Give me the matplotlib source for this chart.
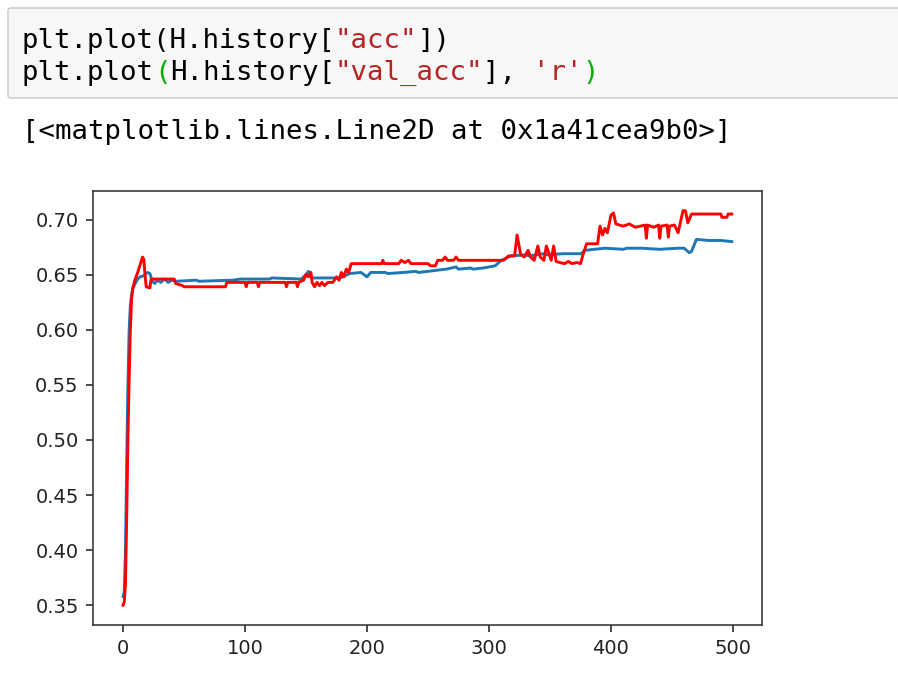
import matplotlib
matplotlib.use("Agg")
import matplotlib.pyplot as plt
from matplotlib.patches import FancyBboxPatch

# acc (blue): epoch -> value
acc_epoch = [0, 1, 2, 3, 4, 5, 6, 7, 8, 10, 12, 14, 17, 20, 22, 24, 26, 28, 31, 34,
             37, 40, 44, 60, 62, 90, 96, 120, 122, 146, 149, 152, 155, 178, 182, 186,
             195, 200, 203, 215, 217, 230, 240, 242, 250, 257, 265, 273, 275, 285, 287,
             295, 300, 305, 310, 318, 330, 333, 345, 348, 360, 376, 378, 395, 410, 413,
             425, 440, 455, 460, 464, 466, 470, 480, 490, 499]
acc_value = [0.358, 0.362, 0.400, 0.480, 0.550, 0.600, 0.622, 0.632, 0.637, 0.642,
             0.646, 0.648, 0.649, 0.652, 0.651, 0.644, 0.642, 0.645, 0.643, 0.646,
             0.643, 0.645, 0.644, 0.645, 0.644, 0.645, 0.646, 0.646, 0.647, 0.646,
             0.649, 0.653, 0.647, 0.647, 0.649, 0.651, 0.652, 0.648, 0.652, 0.652,
             0.651, 0.652, 0.653, 0.652, 0.653, 0.654, 0.655, 0.657, 0.655, 0.656,
             0.655, 0.656, 0.657, 0.658, 0.663, 0.667, 0.668, 0.667, 0.669, 0.668,
             0.669, 0.669, 0.672, 0.674, 0.673, 0.674, 0.674, 0.673, 0.674, 0.674,
             0.670, 0.671, 0.682, 0.681, 0.681, 0.680]

# val_acc (red)
val_epoch = [0, 1, 2, 3, 4, 5, 6, 7, 8, 10, 12, 14, 16, 17, 18, 19, 22, 23, 42, 43,
             49, 50, 84, 85, 100, 101, 102, 110, 111, 112, 133, 134, 135, 142, 143,
             144, 148, 150, 152, 154, 155, 157, 159, 161, 163, 165, 168, 172, 175,
             177, 179, 181, 183, 185, 187, 212, 213, 214, 226, 228, 231, 234, 236,
             250, 252, 256, 258, 262, 264, 266, 271, 273, 275, 312, 316, 321, 323,
             326, 329, 332, 334, 337, 340, 342, 345, 347, 349, 351, 353, 355, 358,
             362, 365, 368, 372, 375, 377, 380, 389, 391, 393, 395, 397, 400, 402,
             404, 410, 415, 420, 428, 429, 430, 435, 439, 440, 441, 446, 447, 448,
             452, 455, 459, 461, 463, 466, 490, 491, 495, 496, 499]
val_value = [0.350, 0.353, 0.370, 0.430, 0.500, 0.555, 0.600, 0.628, 0.638, 0.646,
             0.652, 0.659, 0.666, 0.664, 0.650, 0.639, 0.638, 0.646, 0.646, 0.642,
             0.640, 0.639, 0.639, 0.643, 0.643, 0.639, 0.643, 0.643, 0.639, 0.643,
             0.643, 0.639, 0.643, 0.643, 0.639, 0.643, 0.645, 0.650, 0.648, 0.652,
             0.643, 0.639, 0.643, 0.640, 0.643, 0.640, 0.643, 0.643, 0.648, 0.645,
             0.652, 0.648, 0.655, 0.652, 0.660, 0.660, 0.663, 0.660, 0.660, 0.663,
             0.661, 0.663, 0.660, 0.660, 0.658, 0.658, 0.663, 0.663, 0.666, 0.663,
             0.663, 0.666, 0.663, 0.663, 0.667, 0.667, 0.686, 0.668, 0.666, 0.672,
             0.666, 0.663, 0.676, 0.666, 0.663, 0.676, 0.670, 0.663, 0.676, 0.662,
             0.661, 0.660, 0.662, 0.660, 0.661, 0.660, 0.668, 0.678, 0.678, 0.694,
             0.686, 0.692, 0.688, 0.704, 0.706, 0.696, 0.694, 0.696, 0.693, 0.695,
             0.683, 0.695, 0.693, 0.695, 0.683, 0.694, 0.695, 0.684, 0.694, 0.695,
             0.688, 0.708, 0.708, 0.697, 0.705, 0.705, 0.702, 0.702, 0.705, 0.705]

STR_RED = "#ba2121"
BRACKET_GREEN = "#00b000"
code_lines = [
    [("plt.plot(H.history[", "black"), ('"acc"', STR_RED), ("])", "black")],
    [("plt.plot", "black"), ("(", BRACKET_GREEN), ("H.history[", "black"),
     ('"val_acc"', STR_RED), ("], ", "black"), ("'r'", STR_RED), (")", BRACKET_GREEN)],
]
output_text = "[<matplotlib.lines.Line2D at 0x1a41cea9b0>]"

W, H = 898, 696
fig = plt.figure(figsize=(W / 100, H / 100), dpi=100)

# code cell box
fig.patches.append(FancyBboxPatch((8 / W, 1 - 98 / H), 1.0, 90 / H,
                                  boxstyle="round,pad=0,rounding_size=0.004",
                                  transform=fig.transFigure, facecolor="#f7f7f7",
                                  edgecolor="#cfcfcf", linewidth=1.2))

FS = 19.7
char_px = 0.602 * FS * 100 / 72
x0 = 22
baselines = [48, 80]
for line, base in zip(code_lines, baselines):
    n = 0
    for seg, col in line:
        fig.text((x0 + n * char_px) / W, 1 - base / H, seg, color=col,
                 family="DejaVu Sans Mono", fontsize=FS, va="baseline")
        n += len(seg)
fig.text(x0 / W, 1 - 139 / H, output_text, color="black",
         family="DejaVu Sans Mono", fontsize=FS, va="baseline")

ax = fig.add_axes([92.6 / W, 1 - 625 / H, 669.6 / W, 434 / H])
ax.plot(acc_epoch, acc_value, color="#1f77b4", lw=2.1)
ax.plot(val_epoch, val_value, "r", lw=2.1)
ax.set_xticks([0, 100, 200, 300, 400, 500])
ax.set_yticks([0.35, 0.40, 0.45, 0.50, 0.55, 0.60, 0.65, 0.70])
ax.tick_params(labelsize=14, length=5, width=1.15, pad=5, colors="#222222")
for s in ax.spines.values():
    s.set_linewidth(1.15)
    s.set_color("#333333")

fig.savefig("out.png", dpi=100)
